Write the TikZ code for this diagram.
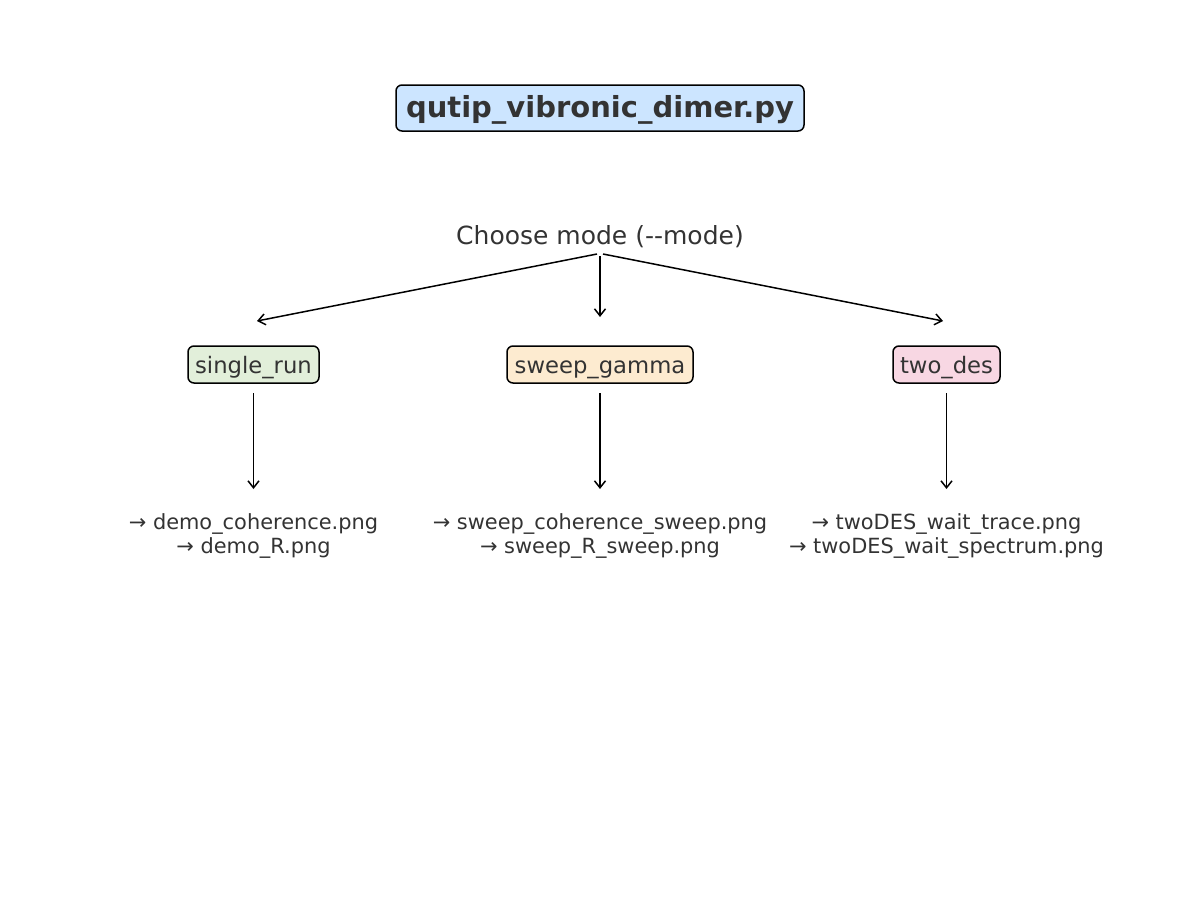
\documentclass[tikz,border=0pt]{standalone}
\usepackage{fontspec}
\setmainfont{DejaVu Sans}
\usetikzlibrary{arrows.meta}
\definecolor{txt}{HTML}{333333}
\definecolor{cblue}{HTML}{CCE5FF}
\definecolor{cgreen}{HTML}{E2EFDA}
\definecolor{corange}{HTML}{FDEBD0}
\definecolor{cpink}{HTML}{F8D7E3}
\tikzset{
  box/.style={draw=black, line width=1.5pt, rounded corners=6pt, text=txt, inner sep=0pt, anchor=center},
  plain/.style={text=txt, inner sep=0pt, align=center, anchor=center},
  conn/.style={-{Straight Barb[length=7pt,width=11pt,line width=1.5pt]}, line width=1.5pt, black, shorten <=0pt},
}
\begin{document}
\begin{tikzpicture}[x=1pt,y=-1pt]
\useasboundingbox (0,0) rectangle (1200,900);
\node[box, fill=cblue, minimum width=408pt, minimum height=46pt, text height=24pt, text depth=5pt, font=\fontsize{29}{34}\selectfont\bfseries] (title) at (600,108) {qutip\_vibronic\_dimer.py};
\node[plain, font=\fontsize{25}{30}\selectfont] (mode) at (600,237) {Choose mode (-{}-mode)};
\coordinate (mL) at (597,254);
\coordinate (mC) at (600,256);
\coordinate (mR) at (603,254);
\coordinate (tL) at (257,321);
\coordinate (tC) at (600,317);
\coordinate (tR) at (943,321);
\tikzset{small/.style={box, minimum height=37pt, text height=19.5pt, text depth=2.5pt, font=\fontsize{22.7}{27}\selectfont}}
\node[small, fill=cgreen, minimum width=131pt] (single) at (253.5,364.5) {single\_run};
\node[small, fill=corange, minimum width=186pt] (sweep) at (600,364.5) {sweep\_gamma};
\node[small, fill=cpink, minimum width=107pt] (two) at (946.5,364.5) {two\_des};
\node[plain, font=\fontsize{20.9}{24}\selectfont] (o1) at (253.5,536) {→ demo\_coherence.png\\→ demo\_R.png};
\node[plain, font=\fontsize{20.9}{24}\selectfont] (o2) at (600,536) {→ sweep\_coherence\_sweep.png\\→ sweep\_R\_sweep.png};
\node[plain, font=\fontsize{20.9}{24}\selectfont] (o3) at (946.5,536) {→ twoDES\_wait\_trace.png\\→ twoDES\_wait\_spectrum.png};
\coordinate (s1) at (253.5,393);
\coordinate (e1) at (253.5,489);
\coordinate (s2) at (600,393);
\coordinate (e2) at (600,489);
\coordinate (s3) at (946.5,393);
\coordinate (e3) at (946.5,489);
\draw[conn] (mL) -- (tL);
\draw[conn] (mC) -- (tC);
\draw[conn] (mR) -- (tR);
\draw[conn] (s1) -- (e1);
\draw[conn] (s2) -- (e2);
\draw[conn] (s3) -- (e3);
\end{tikzpicture}
\end{document}
